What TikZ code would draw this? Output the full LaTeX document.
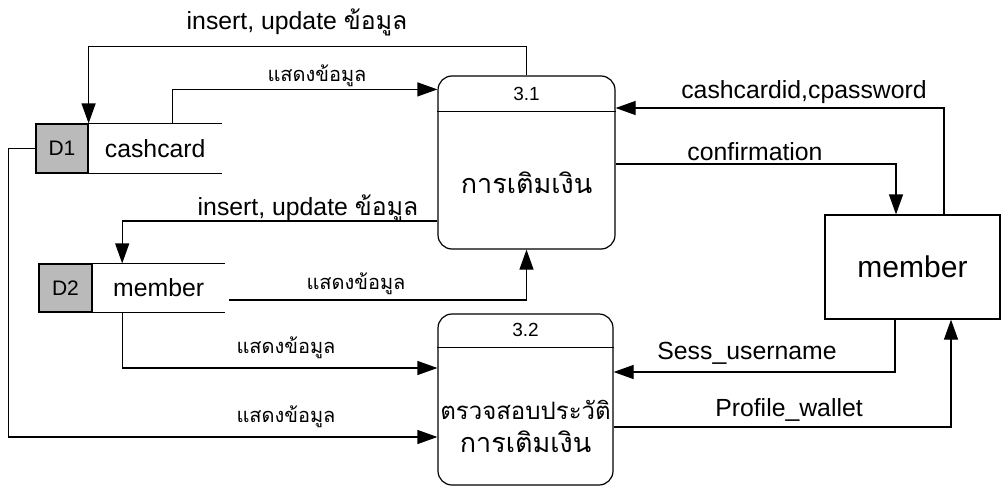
\documentclass[tikz,border=0pt]{standalone}
\usepackage{fontspec}
\setmainfont{Liberation Sans}
\newfontfamily\thaifont[Script=Thai]{Loma}
\usetikzlibrary{arrows.meta,positioning}

\begin{document}
\begin{tikzpicture}[x=0.5pt,y=-0.5pt,line width=0.6pt,
  every node/.style={font=\fontsize{12.4}{14}\selectfont,inner sep=0pt},
  flow/.style={-{Triangle[length=10pt,width=7pt]}},
  procbox/.style={draw,rounded corners=7pt,minimum width=88.5pt,minimum height=86.5pt},
  procid/.style={font=\fontsize{9.5}{11}\selectfont},
  proctitle/.style={align=center,font=\fontsize{13.5}{16}\thaifont},
  storeid/.style={draw,fill=black!27,minimum width=26pt,minimum height=24.5pt,
    font=\fontsize{10.5}{12}\selectfont},
  storename/.style={minimum width=66pt,minimum height=24.5pt,anchor=west},
  entity/.style={draw,minimum width=87.5pt,minimum height=52pt,
    font=\fontsize{15}{18}\selectfont},
  thai/.style={font=\fontsize{10}{12}\thaifont}]
  \useasboundingbox (0,0) rectangle (1001,487);

  % processes
  \node[procbox] (p31) at (526.5,162.5) {};
  \draw ([yshift=-18pt]p31.north west) -- ([yshift=-18pt]p31.north east);
  \node[procid] (p31id) at ([yshift=-9.5pt]p31.north) {3.1};
  \node[proctitle] (p31name) at (526.5,183) {การเติมเงิน};

  \node[procbox,minimum width=87.5pt,minimum height=85.5pt] (p32) at (525.5,399.5) {};
  \draw ([yshift=-17pt]p32.north west) -- ([yshift=-17pt]p32.north east);
  \node[procid] (p32id) at ([yshift=-8.5pt]p32.north) {3.2};
  \node[proctitle] (p32name) at (525.5,426)
    {{\fontsize{12}{16}\selectfont ตรวจสอบประวัติ}\\[0.5pt]การเติมเงิน};

  % data stores
  \node[storeid] (d1) at (62,148.5) {D1};
  \node[storename,right=0pt of d1] (d1name) {cashcard};
  \draw (d1.north east) -- (d1name.north east) (d1.south east) -- (d1name.south east);

  \node[storeid,minimum width=26.5pt,minimum height=24pt] (d2) at (65.5,288) {D2};
  \node[storename,minimum width=65.5pt,minimum height=24pt,right=0pt of d2] (d2name) {member};
  \draw (d2.north east) -- (d2name.north east) (d2.south east) -- (d2name.south east);

  % external entity
  \node[entity] (ext) at (912.5,267) {member};

  % flows
  \draw[flow] (p31.north) -- ++(0,-29) -| (d1.north east);
  \node (lbl1) at (297,22) {insert, update {\thaifont ข้อมูล}};
  \draw[flow] ([xshift=8.5pt]d1name.north) |- ([yshift=-7pt]p31.north west);
  \node[thai] (lbl2) at (317,76) {แสดงข้อมูล};
  \draw[flow] ([yshift=-29.25pt]p31.west) -| ([xshift=-18.25pt]d2name.north);
  \node (lbl3) at (308,208) {insert, update {\thaifont ข้อมูล}};
  \draw[flow] ([xshift=2pt,yshift=-6pt]d2name.east) -| (p31.south);
  \node[thai] (lbl4) at (356,284) {แสดงข้อมูล};
  \draw[flow] ([xshift=-18.25pt]d2name.south) |- ([yshift=15.75pt]p32.west);
  \node[thai] (lbl5) at (286,348) {แสดงข้อมูล};
  \draw[flow] (d1.west) -- ++(-27,0) |- ([yshift=-18.75pt]p32.west);
  \node[thai] (lbl6) at (286,417) {แสดงข้อมูล};

  \draw[flow] ([xshift=15.75pt]ext.north) |- ([yshift=27.25pt]p31.east);
  \node (lbl7) at (804,92) {cashcardid,cpassword};
  \draw[flow] ([yshift=-0.75pt]p31.east) -| ([xshift=-8.25pt]ext.north);
  \node (lbl8) at (755,152) {confirmation};
  \draw[flow] ([xshift=-8.75pt]ext.south) |- ([yshift=13.75pt]p32.east);
  \node (lbl9) at (747,353) {Sess\_username};
  \draw[flow] ([yshift=-13.75pt]p32.east) -| ([xshift=19.25pt]ext.south);
  \node (lbl10) at (789,410) {Profile\_wallet};
\end{tikzpicture}
\end{document}
